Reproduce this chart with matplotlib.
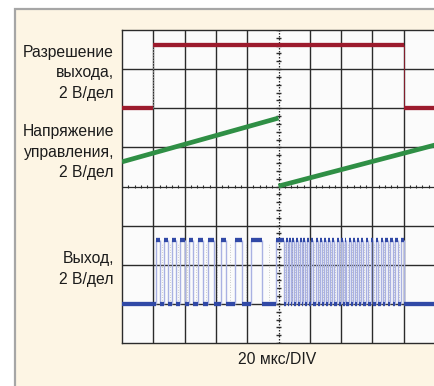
import matplotlib
matplotlib.use("Agg")
import matplotlib.pyplot as plt
from matplotlib.patches import Rectangle
import numpy as np

# --- trace data (time in divisions, voltage in divisions) ---
enable_low = 6.0
enable_high = 7.62
enable_edges = [1.0, 9.0]

ramp_t0 = [0.0, 5.0]
ramp_t1 = [5.0, 10.0]
ramp_v0 = [4.63, 4.01]
ramp_v1 = [5.75, 5.06]

out_low = 1.0
out_high = 2.63
out_high_start = [1.10, 1.34, 1.60, 1.85, 2.14, 2.44, 2.76, 3.16, 3.61, 4.12, 4.92,
                  5.23, 5.34, 5.44, 5.55, 5.69, 5.79, 5.92, 6.05, 6.19, 6.33, 6.46,
                  6.58, 6.72, 6.86, 6.99, 7.11, 7.25, 7.38, 7.52, 7.65, 7.78, 7.94,
                  8.10, 8.26, 8.41, 8.57, 8.73, 8.91]
out_high_end = [1.23, 1.47, 1.73, 2.00, 2.28, 2.60, 2.94, 3.32, 3.82, 4.46, 5.18,
                5.29, 5.40, 5.50, 5.61, 5.75, 5.85, 5.98, 6.11, 6.25, 6.39, 6.52,
                6.64, 6.78, 6.92, 7.05, 7.17, 7.31, 7.44, 7.58, 7.71, 7.86, 8.02,
                8.18, 8.34, 8.49, 8.65, 8.81, 9.00]

n_xdiv, n_ydiv = 10, 8
time_label = "20 мкс/DIV"
channel_labels = ["Разрешение\nвыхода,\n2 В/дел",
                  "Напряжение\nуправления,\n2 В/дел",
                  "Выход,\n2 В/дел"]

RED = "#9c1b2d"
GREEN = "#2f8f45"
BLUE = "#3149a6"
EDGE_BLUE = "#a9b1e2"
GRID = "#2b2b2b"
CREAM = "#fdf5e4"

W, H = 434, 386
fig = plt.figure(figsize=(W / 100, H / 100), dpi=100, facecolor="white")
plt.rcParams["font.family"] = ["Liberation Sans", "DejaVu Sans"]

# panel background with grey frame on the left and top
fig.patches.append(Rectangle((15 / W, -0.1), 1.2, 1.1 - 9 / H,
                             transform=fig.transFigure, facecolor=CREAM,
                             edgecolor="#a6a6a6", linewidth=1.6, zorder=-5))

ax = fig.add_axes([122 / W, 43 / H, 313 / W, 313 / H])
ax.set_zorder(2)
ax.set_facecolor("#fbfbfb")
ax.set_xlim(0, n_xdiv)
ax.set_ylim(0, n_ydiv)
ax.set_xticks([])
ax.set_yticks([])
for s in ax.spines.values():
    s.set_color(GRID)
    s.set_linewidth(1.0)

# graticule
for i in range(1, n_xdiv):
    if i != n_xdiv // 2:
        ax.axvline(i, color=GRID, lw=1.0, zorder=1)
for j in range(1, n_ydiv):
    if j != n_ydiv // 2:
        ax.axhline(j, color=GRID, lw=1.0, zorder=1)
ax.axhline(n_ydiv / 2, color=GRID, lw=0.9, zorder=1)
ax.axvline(n_xdiv / 2, color=GRID, lw=0.9, ls=(0, (1.2, 1.2)), zorder=1)
minor_x = np.arange(0, n_xdiv + 0.01, 0.2)
minor_y = np.arange(0, n_ydiv + 0.01, 0.2)
ax.vlines(minor_x, n_ydiv / 2 - 0.05, n_ydiv / 2 + 0.05, color=GRID, lw=0.8, zorder=1)
ax.hlines(minor_y, n_xdiv / 2 - 0.07, n_xdiv / 2 + 0.07, color=GRID, lw=1.0, zorder=1)

# enable trace
ax.hlines(enable_low, 0, enable_edges[0], color=RED, lw=3.1, zorder=3)
ax.hlines(enable_high, enable_edges[0], enable_edges[1], color=RED, lw=3.1, zorder=3)
ax.hlines(enable_low, enable_edges[1], n_xdiv, color=RED, lw=3.1, zorder=3)
ax.vlines(enable_edges[1], enable_low, enable_high, color=RED, lw=0.7, alpha=0.8, zorder=3)
ax.vlines(enable_edges[0], enable_low, enable_high, color="#9a9a9a", lw=0.8,
          ls=(0, (1, 1.5)), zorder=2)

# control ramp
for t0, t1, v0, v1 in zip(ramp_t0, ramp_t1, ramp_v0, ramp_v1):
    ax.plot([t0, t1], [v0, v1], color=GREEN, lw=3.4, solid_capstyle="butt", zorder=3)

# output pulse train
starts = np.array(out_high_start)
ends = np.array(out_high_end)
low_starts = np.concatenate([[0.0], ends])
low_ends = np.concatenate([starts, [n_xdiv]])
edges = np.concatenate([starts, ends])
ax.vlines(edges, out_low, out_high, color=EDGE_BLUE, lw=1.0, zorder=2)
mid_low = (low_starts[1:-1] + low_ends[1:-1]) / 2
ax.vlines(mid_low, out_low + 0.1, out_high - 0.1, color="#8c8c8c", lw=0.6,
          ls=(0, (0.8, 2.2)), alpha=0.7, zorder=2)
ax.hlines(np.full(len(starts), out_high), starts, ends, color=BLUE, lw=3.1, zorder=3)
ax.hlines(np.full(len(low_starts), out_low), low_starts, low_ends, color=BLUE, lw=3.1, zorder=3)

# labels
fs = 11.3
for label, yc in zip(channel_labels, [73, 152, 269]):
    fig.text(114 / W, 1 - yc / H, label, ha="right", va="center",
             multialignment="right", fontsize=fs, linespacing=1.42, color="#1c1c1c")
fig.text(277.5 / W, 1 - 359 / H, time_label, ha="center", va="center",
         fontsize=fs, color="#1c1c1c")

fig.savefig("out.png", dpi=100, facecolor="white")
